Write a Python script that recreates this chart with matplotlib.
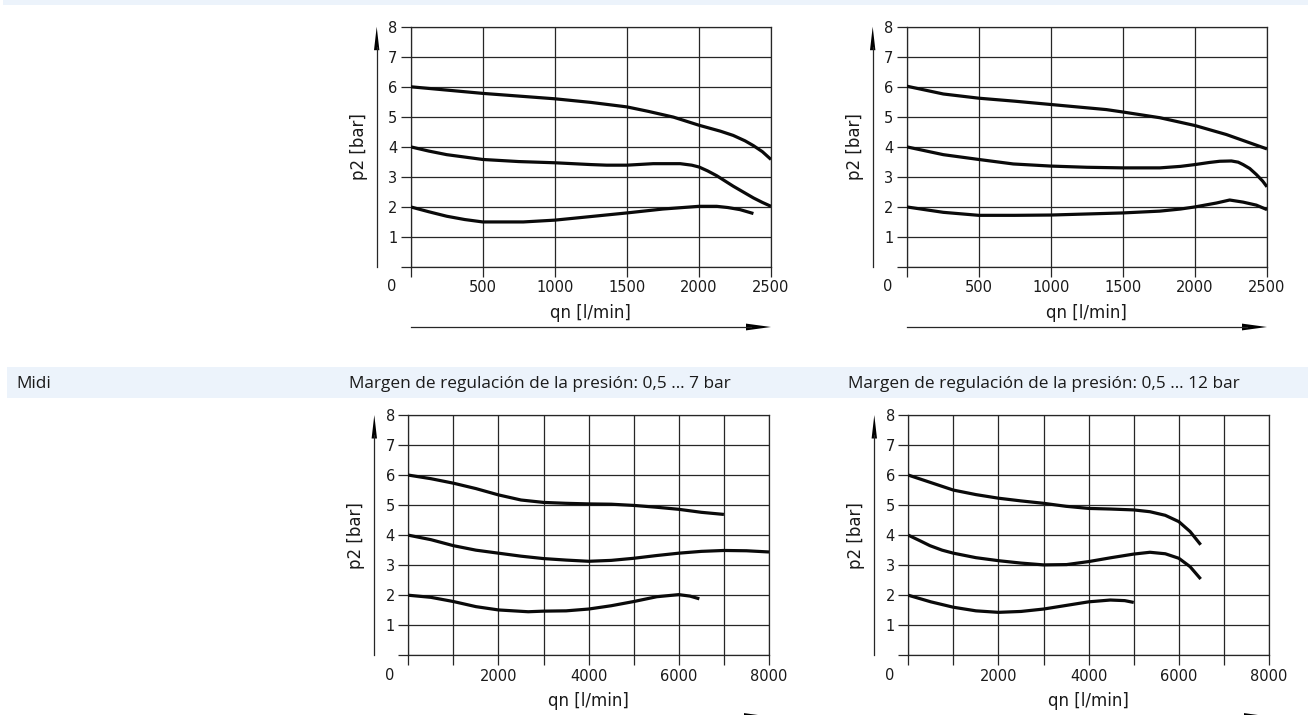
import matplotlib
matplotlib.use("Agg")
import matplotlib.pyplot as plt
from matplotlib import font_manager
from matplotlib.transforms import offset_copy

# ---------------- data ----------------
header_left = "Midi"
header_b1 = "Margen de regulación de la presión: 0,5 … 7 bar"
header_b2 = "Margen de regulación de la presión: 0,5 … 12 bar"
xlabel = "qn [l/min]"
ylabel = "p2 [bar]"

y_ticks = [0, 1, 2, 3, 4, 5, 6, 7, 8]
y_ticklabels = ["", "1", "2", "3", "4", "5", "6", "7", "8"]
top_xticks = [0, 500, 1000, 1500, 2000, 2500]
top_xticklabels = ["", "500", "1000", "1500", "2000", "2500"]
bot_xticks = [0, 1000, 2000, 3000, 4000, 5000, 6000, 7000, 8000]
bot_xticklabels = ["", "", "2000", "", "4000", "", "6000", "", "8000"]

# top-left chart
tl_q6 = [0, 250, 500, 750, 1000, 1250, 1500, 1650, 1823, 2000, 2150, 2238, 2320, 2378, 2440, 2500]
tl_p6 = [6.0, 5.89, 5.78, 5.69, 5.6, 5.48, 5.33, 5.18, 4.99, 4.72, 4.52, 4.38, 4.2, 4.04, 3.84, 3.58]
tl_q4 = [0, 125, 250, 500, 750, 1000, 1250, 1360, 1500, 1683, 1870, 1950, 2000, 2060, 2123, 2238, 2378, 2440, 2500]
tl_p4 = [4.0, 3.86, 3.74, 3.58, 3.51, 3.47, 3.41, 3.39, 3.39, 3.44, 3.44, 3.39, 3.33, 3.2, 3.04, 2.69, 2.3, 2.15, 2.02]
tl_q2 = [0, 125, 250, 375, 500, 781, 1000, 1250, 1500, 1750, 2000, 2123, 2200, 2285, 2378]
tl_p2 = [2.0, 1.84, 1.69, 1.58, 1.5, 1.5, 1.56, 1.68, 1.8, 1.93, 2.02, 2.02, 1.98, 1.91, 1.78]

# top-right chart
tr_q6 = [0, 254, 500, 750, 1000, 1250, 1386, 1500, 1756, 2000, 2218, 2500]
tr_p6 = [6.02, 5.76, 5.62, 5.52, 5.41, 5.3, 5.24, 5.16, 4.97, 4.71, 4.41, 3.93]
tr_q4 = [0, 254, 500, 740, 1000, 1250, 1500, 1756, 1900, 2000, 2100, 2172, 2253, 2300, 2334, 2380, 2426, 2470, 2500]
tr_p4 = [4.0, 3.74, 3.58, 3.43, 3.36, 3.32, 3.3, 3.3, 3.35, 3.41, 3.48, 3.52, 3.53, 3.49, 3.41, 3.28, 3.08, 2.86, 2.67]
tr_q2 = [0, 254, 500, 750, 1000, 1500, 1756, 1900, 2000, 2149, 2241, 2334, 2426, 2500]
tr_p2 = [2.0, 1.82, 1.72, 1.72, 1.73, 1.8, 1.86, 1.93, 2.0, 2.13, 2.23, 2.16, 2.06, 1.91]

# bottom-left chart
bl_q6 = [0, 500, 1000, 1500, 2000, 2500, 3000, 3500, 4000, 4500, 5000, 5500, 6000, 6500, 7000]
bl_p6 = [6.0, 5.88, 5.73, 5.55, 5.34, 5.17, 5.09, 5.06, 5.04, 5.03, 4.99, 4.93, 4.86, 4.76, 4.69]
bl_q4 = [0, 500, 1000, 1500, 2000, 2500, 3000, 3500, 4000, 4500, 5000, 5500, 6000, 6500, 7000, 7500, 8000]
bl_p4 = [4.0, 3.85, 3.65, 3.5, 3.4, 3.3, 3.22, 3.17, 3.13, 3.16, 3.23, 3.32, 3.4, 3.46, 3.49, 3.48, 3.44]
bl_q2 = [0, 500, 1000, 1500, 2000, 2660, 3000, 3500, 4000, 4500, 5000, 5510, 6000, 6250, 6455]
bl_p2 = [2.0, 1.93, 1.79, 1.62, 1.51, 1.45, 1.47, 1.48, 1.54, 1.65, 1.79, 1.95, 2.02, 1.97, 1.88]

# bottom-right chart
br_q6 = [0, 500, 1000, 1500, 2000, 2500, 3000, 3500, 4000, 4480, 5000, 5360, 5700, 6000, 6250, 6485]
br_p6 = [6.0, 5.75, 5.5, 5.35, 5.23, 5.14, 5.06, 4.96, 4.89, 4.87, 4.84, 4.78, 4.66, 4.45, 4.12, 3.68]
br_q4 = [0, 250, 480, 750, 1000, 1500, 2000, 2500, 3000, 3510, 4000, 4500, 5000, 5360, 5700, 6000, 6250, 6485]
br_p4 = [4.0, 3.82, 3.65, 3.5, 3.4, 3.25, 3.15, 3.07, 3.01, 3.02, 3.12, 3.25, 3.37, 3.43, 3.38, 3.23, 2.95, 2.54]
br_q2 = [0, 500, 1000, 1500, 2000, 2500, 3000, 3500, 4000, 4480, 4800, 5000]
br_p2 = [2.0, 1.78, 1.6, 1.48, 1.43, 1.46, 1.54, 1.66, 1.78, 1.84, 1.82, 1.76]

# ---------------- figure ----------------
W, H = 1308, 715
fig = plt.figure(figsize=(W / 100, H / 100), dpi=100)
fig.patch.set_facecolor("white")

BAND = "#ecf3fb"
GRID = "#262626"
CURVE = "#0a0a0a"
TXT = "#1a1a1a"

def installed(name):
    try:
        font_manager.findfont(name, fallback_to_default=False)
        return True
    except Exception:
        return False

head_family = [f for f in ["Liberation Sans Narrow", "Open Sans", "DejaVu Sans"] if installed(f)]
tick_family = ["DejaVu Sans"]

# overlay axes in pixel coordinates for bands, arrows, headers
ov = fig.add_axes([0, 0, 1, 1], zorder=0)
ov.set_xlim(0, W)
ov.set_ylim(H, 0)
ov.axis("off")

ov.add_patch(plt.Rectangle((2.7, 0), W - 2.7, 4.7, color=BAND, lw=0))
ov.add_patch(plt.Rectangle((7, 367), W - 7, 31, color=BAND, lw=0))

def fit_text(x, y, s, target_w):
    t = ov.text(x, y, s, ha="left", va="baseline", family=head_family,
                fontsize=13, color=TXT)
    fig.canvas.draw()
    w = t.get_window_extent().width
    t.set_fontsize(13 * target_w / w)
    return t

t1 = fit_text(349, 388.5, header_b1, 380)
t2 = fit_text(848, 388.5, header_b2, 390)
ov.text(16, 388.5, header_left, ha="left", va="baseline", family=head_family,
        fontsize=t1.get_fontsize(), color=TXT)

def rect(l, t, r, b):
    return [l / W, 1 - b / H, (r - l) / W, (b - t) / H]

def make_chart(box, xmax, xticks, xticklabels, curves, xarrow_y):
    l, t, r, b = box
    ax = fig.add_axes(rect(l, t, r, b), zorder=2)
    ax.set_facecolor("none")
    ax.set_xlim(0, xmax)
    ax.set_ylim(0, 8)
    ax.set_xticks(xticks)
    ax.set_xticklabels(xticklabels)
    ax.set_yticks(y_ticks)
    ax.set_yticklabels(y_ticklabels)
    ax.grid(True, color=GRID, lw=0.9)
    for sp in ax.spines.values():
        sp.set_color(GRID)
        sp.set_linewidth(0.9)
    ax.tick_params(direction="out", length=7.2, width=0.9, color=GRID,
                   labelsize=10.5, labelcolor=TXT, pad=2.5)
    for lab in ax.get_xticklabels() + ax.get_yticklabels():
        lab.set_family(tick_family)
    for q, p in curves:
        ax.plot(q, p, color=CURVE, lw=2.3, solid_joinstyle="round",
                solid_capstyle="butt", zorder=3)
    # origin label
    ax.text(0, 0, "0", transform=offset_copy(ax.transAxes, fig=fig, x=-19, y=-20, units="dots"),
            ha="center", va="center", fontsize=10.5, family=tick_family, color=TXT)
    ax.text(0.5, 0, xlabel, transform=offset_copy(ax.transAxes, fig=fig, x=0, y=-46, units="dots"),
            ha="center", va="center", fontsize=12, family=tick_family, color=TXT)
    ax.text(0, 0.5, ylabel, transform=offset_copy(ax.transAxes, fig=fig, x=-52, y=0, units="dots"),
            ha="center", va="center", rotation=90, fontsize=12, family=tick_family, color=TXT)
    # y arrow
    ya = l - 34
    ov.plot([ya, ya], [b, t + 20], color=GRID, lw=0.9)
    ov.fill([ya, ya - 2.7, ya + 2.7], [t, t + 23.5, t + 23.5], color="black", lw=0)
    # x arrow
    ov.plot([l, r - 20], [xarrow_y, xarrow_y], color=GRID, lw=0.9)
    ov.fill([r, r - 25, r - 25], [xarrow_y, xarrow_y - 3.4, xarrow_y + 3.4], color="black", lw=0)
    return ax

make_chart((410.7, 26.7, 771, 267), 2500, top_xticks, top_xticklabels,
           [(tl_q6, tl_p6), (tl_q4, tl_p4), (tl_q2, tl_p2)], 327)
make_chart((906.7, 26.7, 1267, 267), 2500, top_xticks, top_xticklabels,
           [(tr_q6, tr_p6), (tr_q4, tr_p4), (tr_q2, tr_p2)], 327)
make_chart((408.3, 415, 769, 655.3), 8000, bot_xticks, bot_xticklabels,
           [(bl_q6, bl_p6), (bl_q4, bl_p4), (bl_q2, bl_p2)], 716.5)
make_chart((908.3, 415, 1269, 655.3), 8000, bot_xticks, bot_xticklabels,
           [(br_q6, br_p6), (br_q4, br_p4), (br_q2, br_p2)], 716.5)

fig.savefig("out.png", dpi=100, facecolor="white")
